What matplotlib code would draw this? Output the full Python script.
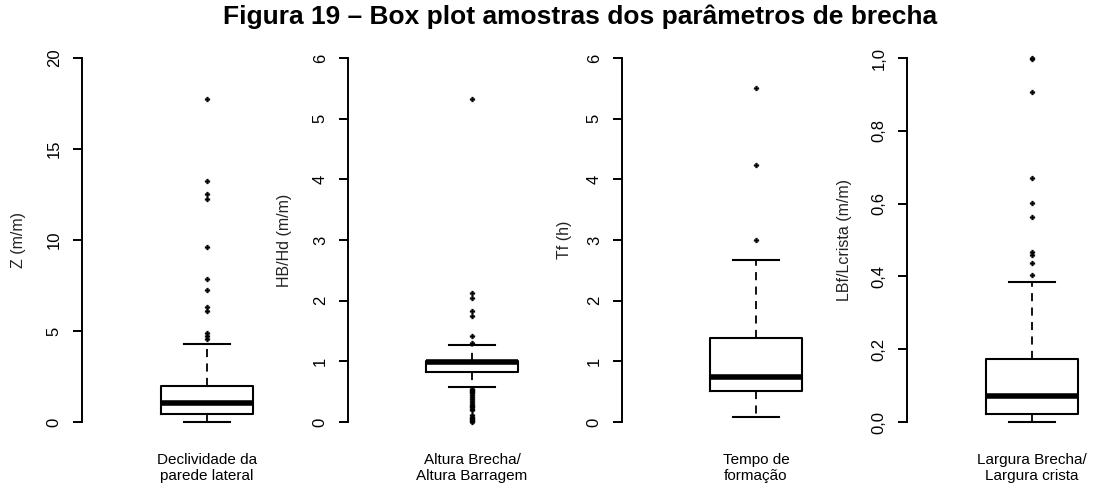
import numpy as np
import matplotlib.pyplot as plt

plt.rcParams['font.family'] = ['Liberation Sans', 'DejaVu Sans']

titulo = 'Figura 19 – Box plot amostras dos parâmetros de brecha'
y_labels = ['Z (m/m)', 'HB/Hd (m/m)', 'Tf (h)', 'LBf/Lcrista (m/m)']
x_labels = ['Declividade da\nparede lateral', 'Altura Brecha/\nAltura Barragem',
            'Tempo de\nformação', 'Largura Brecha/\nLargura crista']

# resumo de cada parametro (limites dos bigodes, quartis e mediana)
whislo = [0.0, 0.57, 0.08, 0.0]
q1 = [0.44, 0.82, 0.51, 0.022]
med = [1.02, 0.985, 0.75, 0.071]
q3 = [1.98, 1.0, 1.39, 0.173]
whishi = [4.28, 1.27, 2.67, 0.384]

# pontos atipicos
out_z = [17.76, 13.26, 12.53, 12.27, 9.63, 7.86, 7.25, 6.34, 6.12, 4.87, 4.73, 4.56]
out_hb = [5.33, 2.12, 2.05, 1.83, 1.74, 1.42, 1.30,
          0.55, 0.53, 0.51, 0.49, 0.47, 0.44, 0.42, 0.38, 0.35, 0.31,
          0.28, 0.26, 0.24, 0.21, 0.19, 0.12, 0.09, 0.07, 0.05, 0.03, 0.01, 0.0]
out_tf = [5.5, 4.24, 3.0]
out_lb = [1.0, 0.998, 0.906, 0.671, 0.601, 0.564, 0.467, 0.459, 0.438, 0.404]
fliers = [out_z, out_hb, out_tf, out_lb]

y_max = [20, 6, 6, 1.0]
y_step = [5, 1, 1, 0.2]

# posicoes em pixels: eixo y, centro da caixa, rotulo do eixo y
W, H = 1094, 486
eixo_x = [82, 348, 622, 907]
centro_x = [207, 472, 756, 1032]
ylab_x = [18, 285, 565, 844]
caixa_px = 92
larg_px = [210, 210, 210, 180]
y0_px, y1_px = 422, 58  # pixel do 0 e do maximo
pad = 0.04 * (y0_px - y1_px)

fig = plt.figure(figsize=(W / 100, H / 100), dpi=100)

for i in range(4):
    bottom = (H - (y0_px + pad)) / H
    height = (y0_px - y1_px + 2 * pad) / H
    ax = fig.add_axes([eixo_x[i] / W, bottom, larg_px[i] / W, height])

    stats = [dict(med=med[i], q1=q1[i], q3=q3[i], whislo=whislo[i],
                  whishi=whishi[i], fliers=fliers[i])]
    ax.bxp(stats, positions=[0], widths=[1.0], capwidths=[0.5],
           patch_artist=False,
           boxprops=dict(color='black', linewidth=1.5),
           medianprops=dict(color='black', linewidth=4, solid_capstyle='butt'),
           whiskerprops=dict(color='black', linewidth=1.3, linestyle=(0, (4.5, 3.5))),
           capprops=dict(color='black', linewidth=1.5),
           flierprops=dict(marker='P', markersize=3.5, markerfacecolor='black',
                           markeredgecolor='black', markeredgewidth=0.3))

    ax.set_xlim((eixo_x[i] - centro_x[i]) / caixa_px,
                (eixo_x[i] + larg_px[i] - centro_x[i]) / caixa_px)
    ax.set_ylim(-0.04 * y_max[i], 1.04 * y_max[i])

    ticks = np.arange(0, y_max[i] + y_step[i] / 2, y_step[i])
    ax.set_yticks(ticks)
    if y_max[i] < 2:
        ax.set_yticklabels([f'{t:.1f}'.replace('.', ',') for t in ticks])
    else:
        ax.set_yticklabels([f'{t:.0f}' for t in ticks])
    ax.tick_params(axis='y', length=6.5, width=1.4, labelsize=12,
                   labelrotation=90, pad=8, colors='black')
    for lab in ax.get_yticklabels():
        lab.set_verticalalignment('center')

    ax.set_xticks([0])
    ax.set_xticklabels([x_labels[i]], fontsize=11, linespacing=1.15)
    ax.tick_params(axis='x', length=0, pad=12)

    for s in ['top', 'right', 'bottom']:
        ax.spines[s].set_visible(False)
    ax.spines['left'].set_linewidth(1.4)
    ax.spines['left'].set_bounds(0, y_max[i])
    ax.patch.set_visible(False)

    fig.text(ylab_x[i] / W, 1 - 240 / H, y_labels[i], rotation=90,
             ha='center', va='center', fontsize=11.5, color='#222222')

fig.text(223 / W, 1 - 17 / H, titulo, ha='left', va='center',
         fontsize=19, fontweight='bold')

fig.savefig('out.png', dpi=100)
